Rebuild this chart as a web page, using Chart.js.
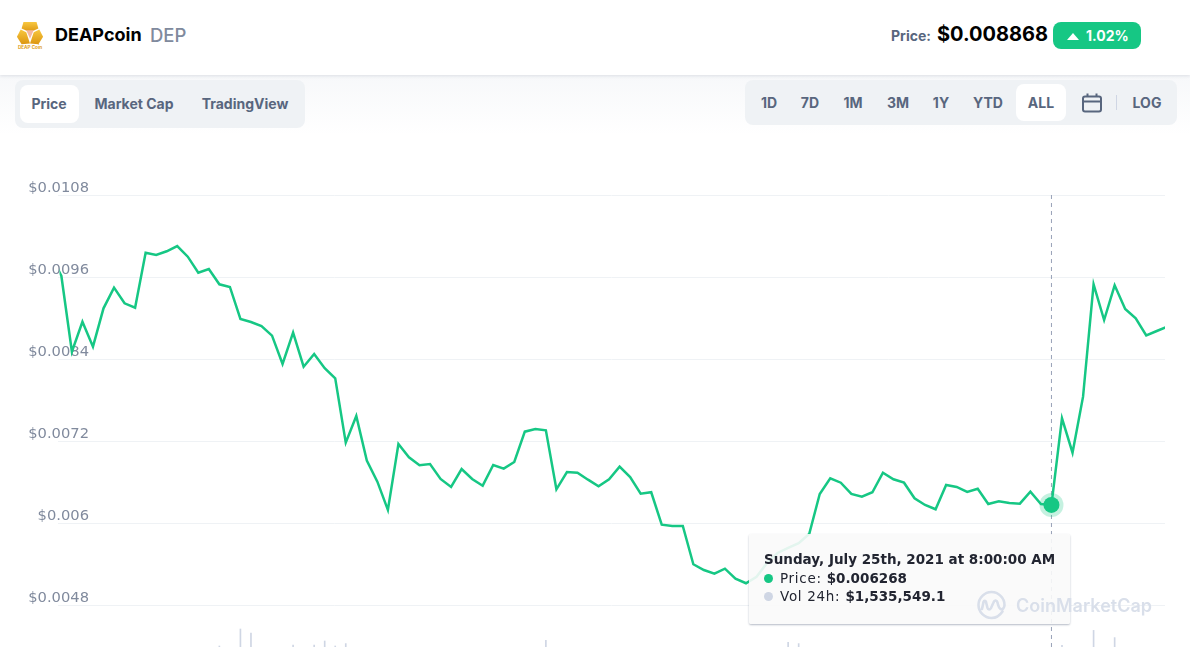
<!DOCTYPE html>
<html lang="en">
<head>
    <meta charset="UTF-8">
    <title>DEAPcoin DEP</title>
    <script src="https://cdn.jsdelivr.net/npm/chart.js"></script>
    <style>
        html, body { margin: 0; padding: 0; background: #fff; overflow: hidden; }
        body { width: 1190px; height: 647px; position: relative; font-family: Inter, sans-serif; color: #58667e; }
        #fade { position: absolute; left: 0; top: 75px; width: 1190px; height: 60px; background: linear-gradient(#f7f8fa, #fff); }
        #top { position: absolute; left: 0; top: 0; width: 1190px; height: 75px; background: #fff; box-shadow: 0 1px 3px rgba(128, 138, 157, 0.22); }
        #top span, #top svg, .panel, .panel span, .panel svg, .panel i { position: absolute; white-space: nowrap; }
        #logo { left: 16px; top: 20px; }
        #name { left: 55px; top: 24px; font-size: 18px; line-height: 22px; font-weight: 700; color: #000; }
        #sym { left: 150px; top: 24px; font-size: 18.5px; line-height: 22px; font-weight: 500; color: #808a9d; }
        #priceLabel { left: 891px; top: 27px; font-size: 14px; line-height: 17px; font-weight: 700; }
        #priceValue { left: 937px; top: 22px; font-size: 20px; line-height: 24px; font-weight: 700; color: #000; }
        #badge { left: 1053px; top: 22px; width: 88px; height: 27px; border-radius: 8px; background: #16c784; }
        #change { left: 1086px; top: 27px; font-size: 14px; line-height: 17px; font-weight: 700; color: #fff; }
        #arrow { left: 1067px; top: 33px; }
        .panel { background: #eff2f5; border-radius: 8px; font-size: 14px; line-height: 17px; font-weight: 700; }
        .panel span { transform: translateX(-50%); }
        .panel i { background: #fff; border-radius: 8px; }
        #chartWrap { position: absolute; left: 0; top: 0; width: 1190px; height: 647px; }
        #mark { position: absolute; left: 977px; top: 590px; width: 180px; height: 30px; color: #d9dfea; font-size: 18px; line-height: 30px; font-weight: 600; }
        #mark span { position: absolute; left: 39px; top: 1px; }
        #mark svg { position: absolute; left: 0; top: 0; }
        #tip { position: absolute; left: 749px; top: 534px; width: 321px; height: 90px; background: rgba(250, 250, 250, 0.9); border-radius: 2px; box-shadow: 0 1px 2px rgba(88, 102, 126, 0.45); font-family: "DejaVu Sans", sans-serif; font-size: 13.5px; color: #222531; }
        #tip div { position: absolute; left: 15px; white-space: nowrap; line-height: 18px; }
        #tip .row { letter-spacing: 0.7px; }
        #tip b { font-weight: 600; letter-spacing: 0; }
        #tip i { display: inline-block; width: 9px; height: 9px; border-radius: 50%; margin-right: 7px; }
    </style>
</head>
<body>
    <div id="fade"></div>
    <div id="top">
        <svg id="logo" width="28" height="30" viewBox="0 0 30 32">
            <defs>
                <linearGradient id="gold" x1="0" y1="0" x2="0" y2="1">
                    <stop offset="0" stop-color="#f8c840"/>
                    <stop offset="1" stop-color="#dc9510"/>
                </linearGradient>
            </defs>
            <polygon points="8,2 22,2 24,9 15,13 6,9" fill="url(#gold)"/>
            <polygon points="5,10 11,13 15,25 6,26 1,18" fill="url(#gold)"/>
            <polygon points="25,10 19,13 15,25 24,26 29,18" fill="url(#gold)"/>
            <polygon points="11,11 19,11 15,20" fill="#f4b7a0"/>
            <text x="15" y="31" font-size="5" font-weight="700" fill="#e0a020" text-anchor="middle" font-family="Inter">DEAP Coin</text>
        </svg>
        <span id="name">DEAPcoin</span>
        <span id="sym">DEP</span>
        <span id="priceLabel">Price:</span>
        <span id="priceValue">$0.008868</span>
        <span id="badge"></span>
        <svg id="arrow" width="12" height="7" viewBox="0 0 12 7"><polygon points="6,0 12,7 0,7" fill="#fff"/></svg>
        <span id="change">1.02%</span>
    </div>

    <div class="panel" style="left:15px;top:80px;width:290px;height:48px;">
        <i style="left:5px;top:5px;width:59px;height:38px;"></i>
        <span style="left:34px;top:15px;">Price</span>
        <span style="left:119px;top:15px;">Market Cap</span>
        <span style="left:230px;top:15px;">TradingView</span>
    </div>
    <div class="panel" style="left:745px;top:80px;width:432px;height:45px;">
        <i style="left:271px;top:4px;width:50px;height:37px;"></i>
        <span style="left:24px;top:14px;">1D</span>
        <span style="left:65px;top:14px;">7D</span>
        <span style="left:108px;top:14px;">1M</span>
        <span style="left:153px;top:14px;">3M</span>
        <span style="left:196px;top:14px;">1Y</span>
        <span style="left:243px;top:14px;">YTD</span>
        <span style="left:296px;top:14px;">ALL</span>
        <svg style="left:337px;top:13px;" width="20" height="20" viewBox="0 0 20 20" fill="none" stroke="#58667e" stroke-width="2">
            <rect x="1" y="3.5" width="18" height="15" rx="2"/><path d="M1 8.5H19M5.5 0.5V4M14.5 0.5V4"/>
        </svg>
        <i style="left:371px;top:15px;width:1px;height:15px;background:#cfd6e4;border-radius:0;"></i>
        <span style="left:402px;top:14px;">LOG</span>
    </div>

    <div id="chartWrap"><canvas id="priceChart" width="1190" height="647"></canvas></div>

    <div id="tip">
        <div style="top:16px;"><b>Sunday, July 25th, 2021 at 8:00:00 AM</b></div>
        <div class="row" style="top:35px;"><i style="background:#16c784;"></i>Price: <b>$0.006268</b></div>
        <div class="row" style="top:53px;"><i style="background:#cfd6e4;"></i>Vol 24h: <b>$1,535,549.1</b></div>
    </div>

    <div id="mark">
        <svg width="30" height="30" viewBox="0 0 30 30" fill="none" stroke="#d9dfea" stroke-width="2.6" stroke-linecap="round" stroke-linejoin="round">
            <path d="M25.5 21.5C22.5 26 18 28 14.5 28C7.5 28 1.5 22 1.5 15C1.5 8 7.5 2 14.5 2C21.5 2 27.5 8 27.5 15C27.5 18 25.5 20 23.5 19C21.5 18 21.5 16 20.5 12.5C19.5 9.5 17.5 10 16.5 12.5L14 18C13 20 11 20 10.5 18L9 12C8.5 10.5 7 10.5 6.5 12L5 19"/>
        </svg>
        <span>CoinMarketCap</span>
    </div>

    <script>
        // samples are numbered from -1, the first one is cut off by the left edge of the plot
        const firstSample = -1;
        const hoverSample = 94;
        const priceTicks = [0.0048, 0.006, 0.0072, 0.0084, 0.0096, 0.0108];

        // price in USD
        const prices = [
            0.009923, 0.009616, 0.008509, 0.008947, 0.008582, 0.009143, 0.009445, 0.009216, 0.009152, 0.009956,
            0.009923, 0.009977, 0.010054, 0.009898, 0.009664, 0.009718, 0.009494, 0.009455, 0.008987, 0.008943,
            0.008884, 0.008743, 0.008329, 0.008787, 0.008289, 0.008475, 0.008266, 0.008120, 0.007178, 0.007568,
            0.006915, 0.006608, 0.006194, 0.007159, 0.006964, 0.006847, 0.006866, 0.006647, 0.006530, 0.006793,
            0.006647, 0.006549, 0.006852, 0.006798, 0.006896, 0.007339, 0.007378, 0.007359, 0.006496, 0.006749,
            0.006739, 0.006637, 0.006540, 0.006643, 0.006827, 0.006676, 0.006432, 0.006453, 0.005979, 0.005960,
            0.005960, 0.005400, 0.005316, 0.005262, 0.005335, 0.005189, 0.005122, 0.005218, 0.005419, 0.005565,
            0.005638, 0.005707, 0.005843, 0.006428, 0.006657, 0.006593, 0.006428, 0.006388, 0.006453, 0.006739,
            0.006643, 0.006593, 0.006365, 0.006267, 0.006204, 0.006559, 0.006530, 0.006457, 0.006505, 0.006281,
            0.006321, 0.006296, 0.006286, 0.006461, 0.006281, 0.006268, 0.007535, 0.007032, 0.007851, 0.009494,
            0.008972, 0.009480, 0.009133, 0.008997, 0.008748, 0.008811, 0.008874
        ];

        // 24h volume in millions of USD, the plot only shows the tips of the spikes
        const volumes = [
            1.5, 1.5, 1.2, 1.4, 1.1, 1.3, 1.6, 1.2, 1.4, 1.3,
            1.5, 1.2, 1.3, 1.4, 1.2, 1.5, 9, 1.1, 94, 74,
            1.3, 1.2, 1.5, 14, 1.4, 14, 34, 9, 21, 1.4,
            1.4, 1.3, 1.2, 1.6, 1.3, 1.2, 1.4, 1.1, 1.3, 1.5,
            1.2, 1.4, 1.3, 1.2, 1.5, 1.4, 1.3, 37, 1.4, 1.2,
            1.3, 1.5, 1.2, 1.4, 1.1, 1.3, 1.2, 1.4, 1.5, 1.3,
            1.2, 1.4, 1.3, 1.1, 1.2, 1.4, 1.3, 1.5, 1.2, 1.3,
            27, 21, 1.4, 1.3, 1.5, 1.2, 1.4, 1.3, 1.2, 1.4,
            1.5, 1.3, 1.2, 1.4, 1.3, 1.1, 1.4, 1.2, 1.3, 1.5,
            1.4, 1.2, 1.3, 1.4, 1.5, 1.54, 12, 1.3, 1.4, 87,
            1.5, 51, 1.6, 1.3, 1.2, 1.4, 1.3
        ];

        const green = '#16c784';

        function toPoints(values) {
            return values.map((v, i) => ({ x: firstSample + i, y: v }));
        }

        // dashed line under the hovered sample
        const crosshair = {
            id: 'crosshair',
            beforeDatasetsDraw(chart) {
                const x = chart.scales.x.getPixelForValue(hoverSample);
                const c = chart.ctx;
                c.save();
                c.strokeStyle = '#98a2b8';
                c.lineWidth = 1;
                c.setLineDash([4, 4]);
                c.beginPath();
                c.moveTo(x, chart.chartArea.top);
                c.lineTo(x, chart.chartArea.bottom);
                c.stroke();
                c.restore();
            }
        };

        new Chart(document.getElementById('priceChart'), {
            type: 'line',
            data: {
                datasets: [
                    {
                        label: 'Price',
                        data: toPoints(prices),
                        yAxisID: 'y',
                        order: 1,
                        borderColor: green,
                        borderWidth: 2.5,
                        tension: 0,
                        clip: { left: -1.5, right: 0, top: 10, bottom: 0 },
                        pointBorderWidth: 0,
                        pointBackgroundColor: green,
                        pointRadius: ctx => ctx.raw && ctx.raw.x === hoverSample ? 8 : 0
                    },
                    {
                        label: 'Hover',
                        data: toPoints(prices).filter(p => p.x === hoverSample),
                        yAxisID: 'y',
                        order: 2,
                        showLine: false,
                        pointBorderWidth: 0,
                        pointRadius: 12,
                        pointBackgroundColor: 'rgba(22, 199, 132, 0.25)'
                    },
                    {
                        type: 'bar',
                        label: 'Vol 24h',
                        data: toPoints(volumes),
                        yAxisID: 'vol',
                        order: 3,
                        barThickness: 1,
                        backgroundColor: '#cfd6e4'
                    }
                ]
            },
            options: {
                responsive: false,
                animation: false,
                events: [],
                layout: { autoPadding: false, padding: { top: 195, right: 25, left: 0, bottom: 0 } },
                plugins: { legend: { display: false }, tooltip: { enabled: false } },
                scales: {
                    x: { type: 'linear', display: false, offset: false, min: -0.32, max: 104.78 },
                    y: {
                        position: 'left',
                        min: 0.00419,
                        max: 0.0108,
                        border: { display: false },
                        afterFit(scale) {
                            scale.width = 58;
                            // labels run past the axis box, over the plot
                            scale._computeLabelArea = () => undefined;
                        },
                        afterBuildTicks(scale) { scale.ticks = priceTicks.map(v => ({ value: v })); },
                        grid: { color: '#eff2f5', lineWidth: 1, drawTicks: false },
                        ticks: {
                            padding: -31,
                            labelOffset: -7,
                            color: '#808a9d',
                            font: { family: 'DejaVu Sans', size: 14.7 },
                            callback: v => '$' + v
                        }
                    },
                    vol: { display: false, position: 'right', min: 4, max: 2264 }
                }
            },
            plugins: [crosshair]
        });
    </script>
</body>
</html>
